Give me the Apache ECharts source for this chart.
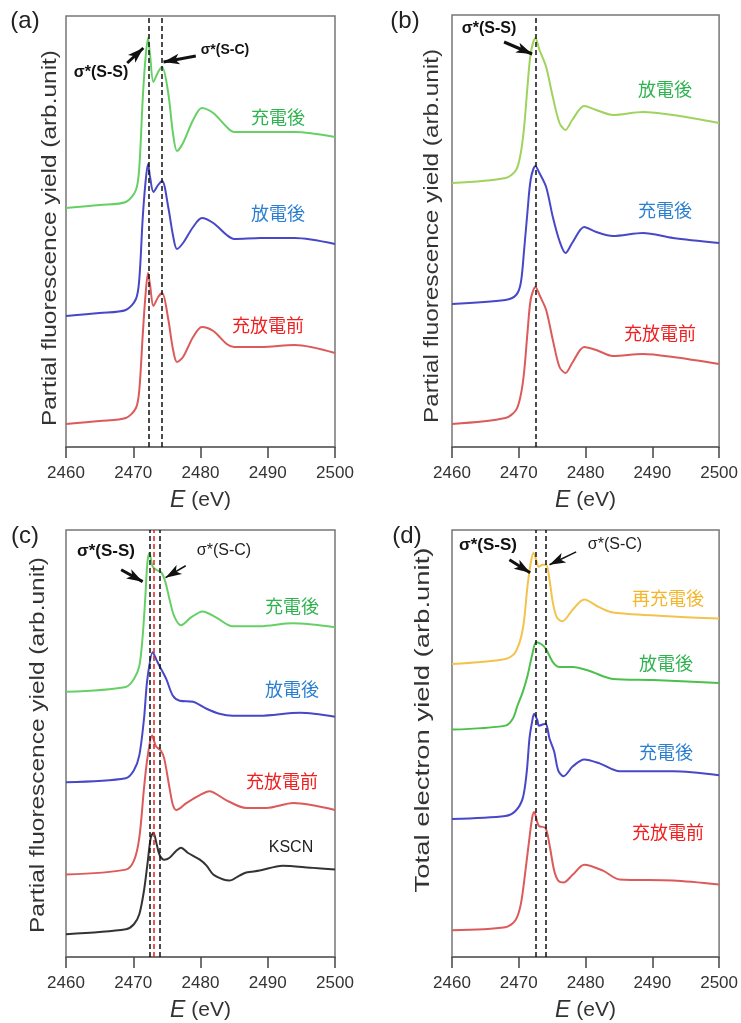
<!DOCTYPE html>
<html><head><meta charset="utf-8">
<script src="https://cdn.jsdelivr.net/npm/echarts@6/dist/echarts.min.js"></script>
<style>html,body{margin:0;padding:0;background:#fff}#c{width:741px;height:1023px}</style>
</head><body><div id="c"></div>
<script>
// ---------- tick labels ----------
const xTicks = [2460, 2470, 2480, 2490, 2500];
// ---------- panel (a) ----------
const E_a = [2460, 2465, 2468.9, 2470.4, 2470.9, 2471.4, 2471.8, 2472.2, 2472.5, 2473.0, 2473.7, 2474.3, 2475.2, 2475.9, 2476.5, 2477.4, 2478.9, 2480.2, 2481.9, 2483.9, 2485, 2489, 2494, 2500];
const a_charged    = [239, 242, 245, 257, 280, 347, 387, 409, 392, 365, 375, 380, 354, 314, 296, 304, 327, 339, 334, 320, 315, 315, 315, 310];
const a_discharged = [131, 134, 137, 148, 168, 228, 263, 283, 270, 255, 262, 266, 240, 212, 198, 204, 220, 229, 224, 212, 208, 209, 209, 203];
const a_pristine   = [23, 26, 29, 39, 57, 111, 150, 174, 162, 141, 150, 154, 128, 98, 85, 90, 110, 120, 116, 103, 100, 100, 102, 94];
const a_dashes = [2472.3, 2474.2];
// ---------- panel (b) ----------
const E_b = [2460, 2468.0, 2469.6, 2470.3, 2470.8, 2471.3, 2471.8, 2472.5, 2473.1, 2474.1, 2475.1, 2476.1, 2477.0, 2478.0, 2479.8, 2481.6, 2484.1, 2488.6, 2493.1, 2500];
const b_discharged = [264, 269, 277, 294, 320, 360, 394, 409, 397, 380, 350, 324, 317, 327, 341, 337, 332, 335, 332, 324];
const b_charged    = [143, 147, 152, 164, 197, 235, 268, 281, 274, 260, 230, 206, 194, 204, 220, 215, 211, 214, 209, 204];
const b_pristine   = [23, 29, 37, 52, 75, 114, 148, 160, 152, 137, 107, 80, 74, 84, 100, 97, 91, 93, 90, 83];
const b_dashes = [2472.5];
// ---------- panel (c) ----------
const E_c_charged = [2460, 2468.9, 2470.1, 2470.9, 2471.4, 2471.8, 2472.1, 2472.4, 2472.9, 2473.4, 2474.2, 2474.8, 2475.4, 2476.1, 2477.1, 2478.6, 2480.3, 2482.3, 2484.8, 2488.8, 2493.7, 2500];
const c_charged   = [267, 272, 280, 293, 323, 363, 397, 407, 393, 390, 387, 377, 360, 343, 334, 342, 348, 342, 333, 333, 336, 332];
const E_c_discharged = [2460, 2468.9, 2470.1, 2470.9, 2471.6, 2472.1, 2472.9, 2473.4, 2473.9, 2474.9, 2475.9, 2476.9, 2478.9, 2480.9, 2482.8, 2484.8, 2488.8, 2494.8, 2500];
const c_discharged   = [176, 180, 188, 203, 240, 280, 307, 300, 293, 280, 263, 258, 257, 250, 245, 243, 243, 246, 242];
const E_c_pristine = [2460, 2468.9, 2470.1, 2470.9, 2471.6, 2472.1, 2472.8, 2473.4, 2474.1, 2474.6, 2475.4, 2475.9, 2476.4, 2477.9, 2479.9, 2481.3, 2483.8, 2486.8, 2489.8, 2493.8, 2500];
const c_pristine   = [83, 88, 97, 120, 170, 200, 223, 212, 208, 200, 170, 153, 148, 155, 163, 167, 158, 150, 150, 155, 148];
const E_c_kscn = [2460, 2468.9, 2470.1, 2470.9, 2471.6, 2472.1, 2472.6, 2473.0, 2473.5, 2473.9, 2474.6, 2475.4, 2476.4, 2477.1, 2478.1, 2479.9, 2480.9, 2481.9, 2483.4, 2484.3, 2485.8, 2486.8, 2488.8, 2492.2, 2496.3, 2500];
const c_kscn   = [23, 28, 33, 43, 67, 93, 120, 125, 113, 103, 98, 100, 107, 110, 105, 98, 92, 83, 78, 77, 82, 85, 87, 92, 90, 88];
const c_dashes = [2472.5, 2473.1, 2474.0];
// ---------- panel (d) ----------
const E_d_recharged = [2460, 2468.0, 2469.5, 2470.6, 2471.3, 2471.8, 2472.2, 2472.6, 2473.0, 2473.6, 2474.1, 2474.6, 2475.1, 2475.7, 2476.5, 2478.1, 2479.8, 2482.1, 2484.1, 2493.1, 2500];
const d_recharged   = [295, 300, 307, 330, 373, 397, 407, 400, 393, 395, 395, 380, 357, 342, 338, 350, 360, 352, 347, 343, 341];
const E_d_discharged = [2460, 2468.0, 2469.1, 2469.8, 2470.6, 2471.3, 2472.1, 2472.6, 2473.4, 2474.1, 2475.1, 2476.1, 2478.1, 2480.6, 2484.1, 2490.1, 2500];
const d_discharged   = [229, 233, 240, 253, 267, 283, 307, 317, 315, 310, 297, 292, 292, 288, 280, 279, 276];
const E_d_charged = [2460, 2468.0, 2469.5, 2470.6, 2471.2, 2471.6, 2472.0, 2472.3, 2472.8, 2473.0, 2474.0, 2474.6, 2475.3, 2475.9, 2476.7, 2478.1, 2479.8, 2482.1, 2485.1, 2493.1, 2500];
const d_charged   = [139, 142, 147, 160, 187, 220, 237, 245, 238, 233, 235, 220, 207, 188, 182, 192, 199, 195, 187, 187, 183];
const E_d_pristine = [2460, 2468.0, 2469.5, 2470.3, 2471.0, 2471.6, 2472.0, 2472.3, 2473.0, 2474.0, 2474.6, 2475.3, 2475.9, 2476.7, 2478.1, 2479.8, 2482.6, 2485.1, 2493.1, 2500];
const d_pristine   = [27, 30, 37, 53, 87, 120, 140, 146, 132, 130, 113, 87, 77, 75, 83, 93, 87, 78, 77, 73];
const d_dashes = [2472.5, 2474.1];

// ---------- y-axis titles ----------
const yTitles = ['Partial fluorescence yield (arb.unit)', 'Partial fluorescence yield (arb.unit)',
                 'Partial fluorescence yield (arb.unit)', 'Total electron yield (arb.unit)'];

// ---------- layout ----------
const grids = [
  {left: 66, top: 16, width: 269, height: 431},
  {left: 452, top: 15, width: 268, height: 432},
  {left: 66, top: 530, width: 269, height: 430},
  {left: 452, top: 530, width: 268, height: 430}
];
const yMax = [431, 432, 430, 430];
// centre x, centre y, wanted length of each rotated y title
const yTitlePos = [[50, 238, 376], [432, 236, 374], [38, 745, 376], [423, 720, 345]];
const FONT = '"Liberation Sans", Arial, sans-serif';
const CJK = '"Noto Sans CJK JP", sans-serif';
const Y_TITLE_FONT = '21px ' + FONT;

const zip = (xs, ys) => xs.map((x, i) => [x, ys[i]]);

function line(xs, ys, color, idx) {
  return {
    type: 'line', xAxisIndex: idx, yAxisIndex: idx, data: zip(xs, ys),
    showSymbol: false, smooth: 0.3, lineStyle: {color: color, width: 2}, itemStyle: {color: color},
    z: 3, silent: true
  };
}
function dashes(list, colors) {
  return {
    silent: true, symbol: ['none', 'none'], label: {show: false},
    lineStyle: {type: [5, 3], color: '#111', width: 1.5},
    data: list.map((x, i) => ({xAxis: x, lineStyle: {color: (colors && colors[i]) || '#111', type: [5, 3], width: 1.5}}))
  };
}
function arrows(segs) {
  return {silent: true, symbol: ['none', 'arrow'], label: {show: false},
    data: segs.map(s => [{coord: s[0], lineStyle: {width: s[2], color: '#111', type: 'solid'}, symbolSize: s[3]}, {coord: s[1]}])};
}

const GREEN = '#66d066', LGREEN = '#9fd35e', BLUE = '#4747c8', RED = '#dc5a5a', BLACK = '#333333', ORANGE = '#f3c34e', DGREEN = '#4cbf4c';

const series = [
  line(E_a, a_charged, GREEN, 0),
  line(E_a, a_discharged, BLUE, 0),
  line(E_a, a_pristine, RED, 0),
  {type: 'line', xAxisIndex: 0, yAxisIndex: 0, data: [], markLine: dashes(a_dashes)},
  {type: 'line', xAxisIndex: 0, yAxisIndex: 0, data: [], markLine: arrows([
     [[2469.1, 384], [2471.5, 399], 3, 10],
     [[2479.3, 391], [2474.5, 385], 3, 10]])},
  line(E_b, b_discharged, LGREEN, 1),
  line(E_b, b_charged, BLUE, 1),
  line(E_b, b_pristine, RED, 1),
  {type: 'line', xAxisIndex: 1, yAxisIndex: 1, data: [], markLine: dashes(b_dashes)},
  {type: 'line', xAxisIndex: 1, yAxisIndex: 1, data: [], markLine: arrows([
     [[2467.8, 405], [2472.0, 393], 3, 10]])},
  line(E_c_charged, c_charged, GREEN, 2),
  line(E_c_discharged, c_discharged, BLUE, 2),
  line(E_c_pristine, c_pristine, RED, 2),
  line(E_c_kscn, c_kscn, BLACK, 2),
  {type: 'line', xAxisIndex: 2, yAxisIndex: 2, data: [], markLine: dashes(c_dashes, ['#111', '#e02020', '#111'])},
  {type: 'line', xAxisIndex: 2, yAxisIndex: 2, data: [], markLine: arrows([
     [[2468.2, 390], [2471.4, 378], 3, 10],
     [[2477.8, 394], [2474.8, 382], 1.5, 9]])},
  line(E_d_recharged, d_recharged, ORANGE, 3),
  line(E_d_discharged, d_discharged, DGREEN, 3),
  line(E_d_charged, d_charged, BLUE, 3),
  line(E_d_pristine, d_pristine, RED, 3),
  {type: 'line', xAxisIndex: 3, yAxisIndex: 3, data: [], markLine: dashes(d_dashes)},
  {type: 'line', xAxisIndex: 3, yAxisIndex: 3, data: [], markLine: arrows([
     [[2468.6, 400], [2471.7, 387], 3, 10],
     [[2478.6, 408], [2474.6, 395], 1.5, 9]])}
];

const xAxis = grids.map((g, i) => ({
  type: 'value', gridIndex: i, min: xTicks[0], max: xTicks[xTicks.length - 1], interval: xTicks[1] - xTicks[0],
  axisLine: {show: true, lineStyle: {color: '#666', width: 1.5}},
  axisTick: {show: true, length: 11, lineStyle: {color: '#444', width: 1.5}},
  axisLabel: {fontSize: 17, color: '#333', fontFamily: FONT, margin: 18, formatter: v => String(v)},
  splitLine: {show: false},
  name: '{i|E}{n| (eV)}', nameLocation: 'middle', nameGap: 42,
  nameTextStyle: {rich: {
    i: {fontSize: 23, fontStyle: 'italic', fontFamily: FONT, color: '#333'},
    n: {fontSize: 21, fontFamily: FONT, color: '#333'}
  }}
}));
const yAxis = grids.map((g, i) => ({
  type: 'value', gridIndex: i, min: 0, max: yMax[i],
  axisLine: {show: false}, axisTick: {show: false}, axisLabel: {show: false}, splitLine: {show: false}
}));

const measureCtx = document.createElement('canvas').getContext('2d');
measureCtx.font = Y_TITLE_FONT;
function yTitle(i) {
  const p = yTitlePos[i];
  const w = measureCtx.measureText(yTitles[i]).width;
  return {type: 'text', silent: true, x: p[0], y: p[1], rotation: Math.PI / 2, scaleX: p[2] / w,
    style: {text: yTitles[i], font: Y_TITLE_FONT, fill: '#333', align: 'center', verticalAlign: 'middle'}};
}
function txt(text, x, y, color, font) {
  return {type: 'text', silent: true, z: 10, style: {text: text, x: x, y: y, fill: color, font: font, align: 'center', verticalAlign: 'middle'}};
}
const cjkFont = '18px ' + CJK;
const graphic = [
  yTitle(0), yTitle(1), yTitle(2), yTitle(3),
  txt('(a)', 25, 21, '#222', '24px ' + FONT),
  txt('(b)', 405, 21, '#222', '24px ' + FONT),
  txt('(c)', 25, 536, '#222', '24px ' + FONT),
  txt('(d)', 407, 536, '#222', '24px ' + FONT),
  txt('σ*(S-S)', 101, 73, '#111', 'bold 16px ' + FONT),
  txt('σ*(S-C)', 225, 50, '#111', 'bold 14px ' + FONT),
  txt('充電後', 278, 117, '#2fb34f', cjkFont),
  txt('放電後', 278, 213, '#2a7fd0', cjkFont),
  txt('充放電前', 268, 325, '#f02020', cjkFont),
  txt('σ*(S-S)', 489, 29, '#111', 'bold 16px ' + FONT),
  txt('放電後', 665, 89, '#2fb34f', cjkFont),
  txt('充電後', 665, 210, '#2a7fd0', cjkFont),
  txt('充放電前', 660, 333, '#f02020', cjkFont),
  txt('σ*(S-S)', 106, 551, '#111', 'bold 17px ' + FONT),
  txt('σ*(S-C)', 224, 551, '#222', '16px ' + FONT),
  txt('充電後', 292, 606, '#2fb34f', cjkFont),
  txt('放電後', 292, 689, '#2a7fd0', cjkFont),
  txt('充放電前', 282, 781, '#f02020', cjkFont),
  txt('KSCN', 291, 848, '#222', '16px ' + FONT),
  txt('σ*(S-S)', 488, 545, '#111', 'bold 17px ' + FONT),
  txt('σ*(S-C)', 615, 545, '#222', '16px ' + FONT),
  txt('再充電後', 668, 598, '#f5b52a', cjkFont),
  txt('放電後', 666, 663, '#2fb34f', cjkFont),
  txt('充電後', 666, 752, '#2a7fd0', cjkFont),
  txt('充放電前', 668, 832, '#f02020', cjkFont)
];

const chart = echarts.init(document.getElementById('c'), null, {renderer: 'canvas'});
chart.setOption({
  animation: false,
  backgroundColor: '#fff',
  grid: grids.map(g => Object.assign({show: true, borderColor: '#777', borderWidth: 1.5, backgroundColor: 'transparent', containLabel: false}, g)),
  xAxis: xAxis, yAxis: yAxis, series: series, graphic: graphic
});
</script></body></html>
